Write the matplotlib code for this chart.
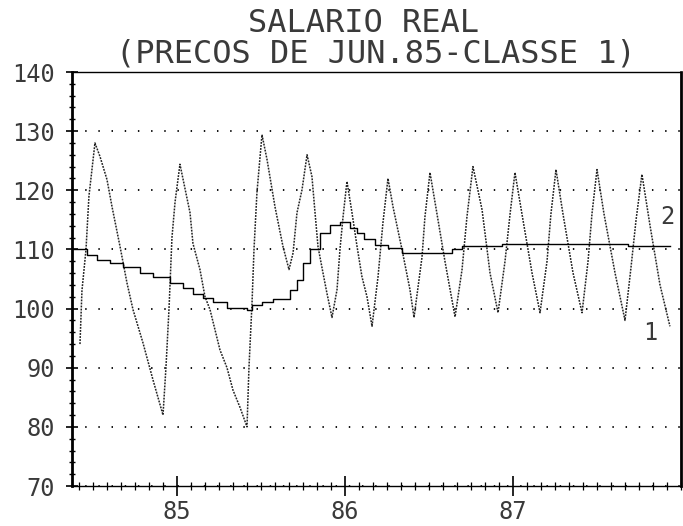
import matplotlib
matplotlib.use("Agg")
import matplotlib.pyplot as plt
from matplotlib.ticker import MultipleLocator

# ---- data (x in months, 0 = Jan 1985) ----
title1 = "SALARIO REAL"
title2 = "(PRECOS DE JUN.85-CLASSE 1)"

s1_x = [-6.93, -6.79, -6.50, -6.29, -5.86, -5.50, -5.00, -4.64, -4.07, -3.57, -3.14, -2.43,
        -1.71, -1.00, -0.79, -0.57, -0.36, -0.14, 0.21, 0.36, 0.93, 1.14, 1.64, 2.00, 2.36,
        3.07, 3.57, 4.00, 4.50, 5.00, 5.14, 5.36, 5.50, 5.71, 6.07, 6.43, 7.00, 7.57, 8.00,
        8.29, 8.57, 8.93, 9.29, 9.64, 9.86, 10.07, 10.43, 10.71, 11.07, 11.43, 11.64, 11.86,
        12.14, 12.50, 12.86, 13.21, 13.57, 13.93, 14.36, 14.71, 15.07, 15.43, 16.07, 16.64,
        16.93, 17.50, 17.71, 18.07, 18.50, 19.14, 19.86, 20.36, 20.71, 21.14, 21.79, 22.36,
        22.93, 23.43, 23.79, 24.14, 24.64, 25.36, 25.93, 26.43, 26.71, 27.07, 27.57, 28.29,
        28.93, 29.36, 29.64, 30.00, 30.50, 31.29, 32.00, 32.43, 32.79, 33.21, 33.79, 34.50,
        35.21]
s1_y = [94, 103, 110, 119, 128, 125.7, 121.8, 117.2, 110.5, 104.3, 99.8, 94.2,
        87.9, 82, 90, 100, 112, 118, 124.4, 122.7, 116.2, 111, 106.6, 102, 99.8,
        93, 90, 86.2, 83.3, 80, 90, 101, 110, 119.6, 129.4, 125.2, 117.2, 110.5, 106.6,
        109.4, 116.2, 120.1, 126, 122.3, 116.2, 110.5, 106, 102.6, 98.5, 103.2, 110, 115.5,
        121.5, 116.2, 110.5, 105.4, 102, 97, 105.4, 114.5, 122, 117.2, 110, 103.2,
        98.5, 108.7, 115.5, 123, 117, 108, 98.6, 106.6, 115.5, 124, 116.7, 106,
        99.3, 108, 116, 123, 116, 106, 99.3, 108, 116, 123.5, 116, 106,
        99.3, 108, 116, 123.5, 116, 106, 98, 107, 115, 122.7, 114, 104,
        97]

s2_x = [-7.5, -6.43, -5.71, -4.79, -3.86, -2.64, -1.71, -0.50, 0.43, 1.14, 1.86, 2.57,
        3.57, 5.00, 5.36, 6.07, 6.86, 8.07, 8.57, 9.00, 9.50, 10.21, 10.93, 11.64, 12.36,
        12.86, 13.36, 14.14, 15.07, 16.07, 19.64, 20.36, 23.21, 32.21, 35.21]
s2_y = [110, 109.1, 108.2, 107.7, 107.1, 106, 105.4, 104.3, 103.5, 102.4, 101.8, 101.1,
        100.1, 99.8, 100.6, 101.1, 101.6, 103.2, 104.9, 107.7, 110, 112.8, 114.2, 114.7, 113.7,
        112.8, 111.7, 110.8, 110.2, 109.4, 110, 110.5, 111, 110.5, 110.5]

y_ticks = [70, 80, 90, 100, 110, 120, 130, 140]
x_ticks = [0, 12, 24]
x_labels = ["85", "86", "87"]

# ---- figure ----
mono = "DejaVu Sans Mono"
txt = "#3a3a3a"
fig = plt.figure(figsize=(6.83, 5.26), dpi=100)
ax = fig.add_axes([72 / 683, 40 / 526, 609 / 683, 414 / 526])
ax.set_xlim(-7.5, 36)
ax.set_ylim(70, 140)

ax.set_yticks(y_ticks)
ax.set_yticklabels([str(v) for v in y_ticks], fontsize=17, family=mono, color=txt)
ax.yaxis.set_minor_locator(MultipleLocator(2))
ax.set_xticks(x_ticks)
ax.set_xticklabels(x_labels, fontsize=17, family=mono, color=txt)
ax.xaxis.set_minor_locator(MultipleLocator(1))
ax.tick_params(axis="y", which="major", direction="inout", length=9, width=1.2, pad=8)
ax.tick_params(axis="y", which="minor", direction="inout", length=4, width=1.0)
ax.tick_params(axis="x", which="major", direction="inout", length=14, width=1.2, pad=3)
ax.tick_params(axis="x", which="minor", direction="inout", length=6, width=0.9)

ax.grid(axis="y", which="major", color="black", linewidth=1.3, linestyle=(0, (0.8, 6.5)))
ax.set_axisbelow(True)

for side in ["top", "bottom"]:
    ax.spines[side].set_linewidth(1.0)
ax.spines["left"].set_linewidth(2.0)
ax.spines["left"].set_linestyle((0, (2, 1)))
ax.spines["right"].set_linewidth(2.0)
ax.spines["right"].set_linestyle((0, (1.5, 1)))

ax.plot(s1_x, s1_y, color="#222222", linewidth=1.1, linestyle=(0, (1.2, 0.8)))
ax.step(s2_x, s2_y, where="post", color="black", linewidth=1.0)

ax.text(33.79, 95.9, "1", fontsize=17, family=mono, color=txt, ha="center", va="center")
ax.text(35.0, 115.5, "2", fontsize=17, family=mono, color=txt, ha="center", va="center")

fig.text(364 / 683, 1 - 24 / 526, title1, fontsize=23, family=mono, color=txt,
         ha="center", va="center")
fig.text(376 / 683, 1 - 54 / 526, title2, fontsize=23, family=mono, color=txt,
         ha="center", va="center")

fig.savefig("out.png", dpi=100)
